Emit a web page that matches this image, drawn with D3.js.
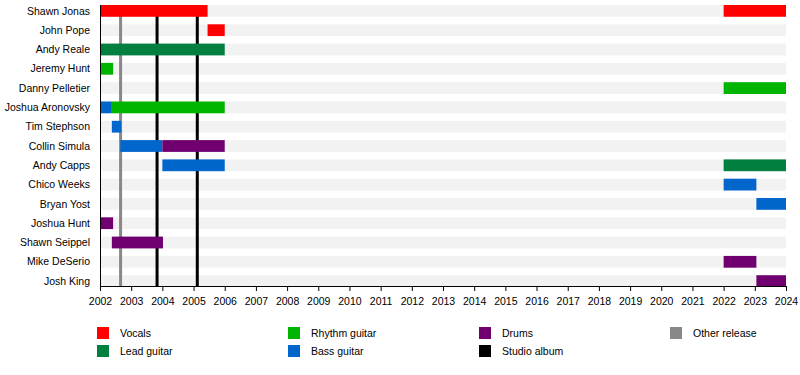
<!DOCTYPE html>
<html>
<head>
  <meta charset="utf-8">
  <script src="https://d3js.org/d3.v7.min.js"></script>
  <title>Band timeline</title>
<style>
body {
  margin: 0;
  background: #fff;
}
svg {
  font-family: "Liberation Sans", Arial, sans-serif;
  font-size: 10.5px;
}
</style>
</head>
<body>
<script>
var members = ['Shawn Jonas', 'John Pope', 'Andy Reale', 'Jeremy Hunt', 'Danny Pelletier',
  'Joshua Aronovsky', 'Tim Stephson', 'Collin Simula', 'Andy Capps', 'Chico Weeks',
  'Bryan Yost', 'Joshua Hunt', 'Shawn Seippel', 'Mike DeSerio', 'Josh King'];

var roles = ['Vocals', 'Lead guitar', 'Rhythm guitar', 'Bass guitar', 'Drums'];
var roleColors = ['#ff0000', '#007f3f', '#00b400', '#0066cc', '#700070'];

// [member, role, from, to]
var stints = [
  ['Shawn Jonas', 'Vocals', 2002, 2005.45],
  ['Shawn Jonas', 'Vocals', 2022, 2024],
  ['John Pope', 'Vocals', 2005.45, 2006],
  ['Andy Reale', 'Lead guitar', 2002, 2006],
  ['Jeremy Hunt', 'Rhythm guitar', 2002, 2002.42],
  ['Danny Pelletier', 'Rhythm guitar', 2022, 2024],
  ['Joshua Aronovsky', 'Bass guitar', 2002, 2002.38],
  ['Joshua Aronovsky', 'Rhythm guitar', 2002.38, 2006],
  ['Tim Stephson', 'Bass guitar', 2002.38, 2002.68],
  ['Collin Simula', 'Bass guitar', 2002.65, 2004],
  ['Collin Simula', 'Drums', 2004, 2006],
  ['Andy Capps', 'Bass guitar', 2004, 2006],
  ['Andy Capps', 'Lead guitar', 2022, 2024],
  ['Chico Weeks', 'Bass guitar', 2022, 2023.05],
  ['Bryan Yost', 'Bass guitar', 2023.05, 2024],
  ['Joshua Hunt', 'Drums', 2002, 2002.42],
  ['Shawn Seippel', 'Drums', 2002.38, 2004.02],
  ['Mike DeSerio', 'Drums', 2022, 2023.05],
  ['Josh King', 'Drums', 2023.05, 2024]
];

var releaseTypes = ['Other release', 'Studio album'];
var releaseColors = ['#888888', '#000000'];
// [year, type]
var releases = [
  [2002.66, 'Other release'],
  [2003.83, 'Studio album'],
  [2005.12, 'Studio album']
];

var yearTicks = d3.range(2002, 2025);

var width = 800, height = 375;
var svg = d3.select('body').append('svg')
  .attr('width', width)
  .attr('height', height);

var x = d3.scaleLinear().domain([2002, 2024]).range([100, 786]);
var y = d3.scaleBand().domain(members).range([5, 287]).paddingInner(0.39).paddingOuter(0);
var color = d3.scaleOrdinal().domain(roles.concat(releaseTypes)).range(roleColors.concat(releaseColors));

// background rows
svg.append('g').selectAll('rect')
  .data(members)
  .enter().append('rect')
  .attr('x', x(2002))
  .attr('y', function (d) { return y(d); })
  .attr('width', x(2024) - x(2002))
  .attr('height', y.bandwidth())
  .attr('fill', '#f2f2f2');

// release lines
svg.append('g').selectAll('line')
  .data(releases)
  .enter().append('line')
  .attr('x1', function (d) { return x(d[0]); })
  .attr('x2', function (d) { return x(d[0]); })
  .attr('y1', y.range()[0])
  .attr('y2', 286)
  .attr('stroke', function (d) { return color(d[1]); })
  .attr('stroke-width', 3);

// member bars
svg.append('g').selectAll('rect')
  .data(stints)
  .enter().append('rect')
  .attr('x', function (d) { return x(d[2]); })
  .attr('y', function (d) { return y(d[0]); })
  .attr('width', function (d) { return x(d[3]) - x(d[2]); })
  .attr('height', y.bandwidth())
  .attr('fill', function (d) { return color(d[1]); });

// names
svg.append('g').selectAll('text')
  .data(members)
  .enter().append('text')
  .attr('x', 90)
  .attr('y', function (d) { return y(d) + y.bandwidth() / 2; })
  .attr('dy', '0.35em')
  .attr('text-anchor', 'end')
  .attr('fill', '#000')
  .text(function (d) { return d; });

// y axis line
svg.append('line')
  .attr('x1', 100.5).attr('x2', 100.5)
  .attr('y1', 5).attr('y2', 286)
  .attr('stroke', '#000');

// x axis
var xAxis = svg.append('g')
  .attr('transform', 'translate(0,286)')
  .call(d3.axisBottom(x).tickValues(yearTicks).tickFormat(d3.format('d')).tickSize(5).tickSizeOuter(0));
xAxis.select('.domain').attr('stroke', '#000');
xAxis.selectAll('text').attr('font-size', 10.5).attr('font-family', '"Liberation Sans", Arial, sans-serif').attr('dy', '1em');

// legend
var legendItems = [
  ['Vocals', 0, 0], ['Lead guitar', 0, 1],
  ['Rhythm guitar', 1, 0], ['Bass guitar', 1, 1],
  ['Drums', 2, 0], ['Studio album', 2, 1],
  ['Other release', 3, 0]
];
var legend = svg.append('g').selectAll('g')
  .data(legendItems)
  .enter().append('g')
  .attr('transform', function (d) { return 'translate(' + (97 + d[1] * 191) + ',' + (327 + d[2] * 18) + ')'; });
legend.append('rect')
  .attr('width', 12).attr('height', 12)
  .attr('fill', function (d) { return color(d[0]); });
legend.append('text')
  .attr('x', 23).attr('y', 6)
  .attr('dy', '0.35em')
  .text(function (d) { return d[0]; });
</script>
</body>
</html>
